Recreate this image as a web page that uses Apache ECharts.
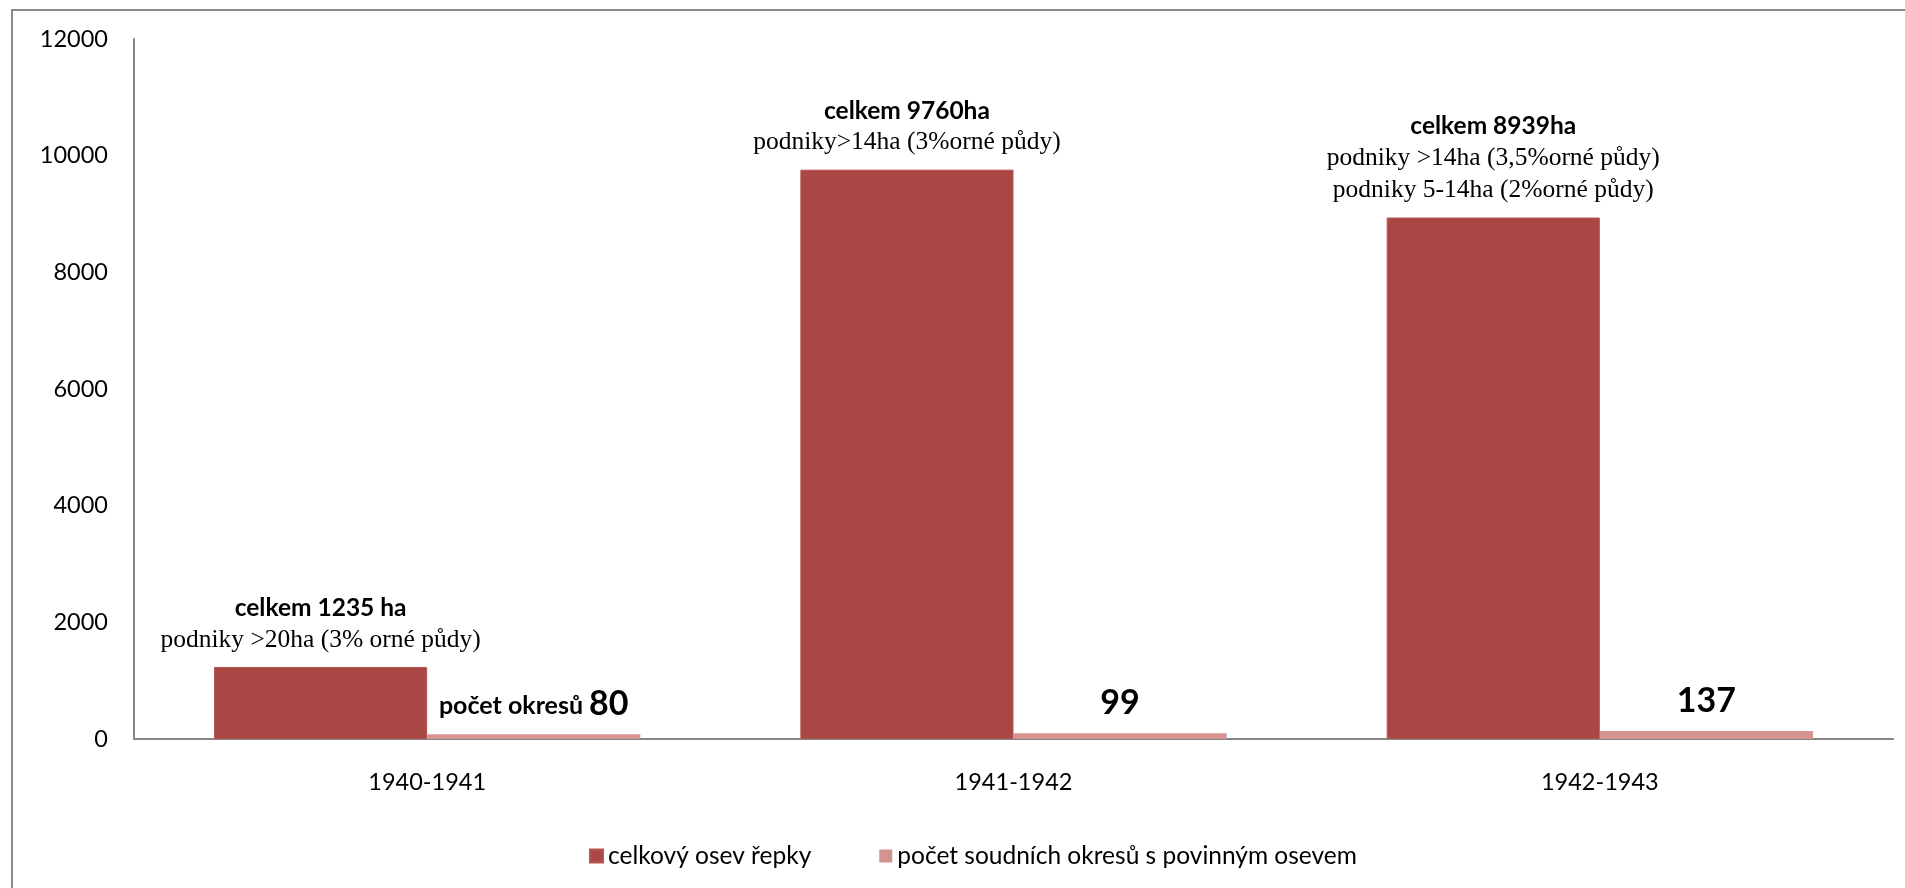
<!DOCTYPE html>
<html>
<head>
<meta charset="utf-8">
<script src="https://cdn.jsdelivr.net/npm/echarts@6/dist/echarts.min.js"></script>
<style>
html,body{margin:0;padding:0;background:#fff;}
#chart{width:1905px;height:888px;}
</style>
</head>
<body>
<div id="chart"></div>
<script>
// ---- data ----
const categories = ['1940-1941', '1941-1942', '1942-1943'];
const seriesNames = ['celkový osev řepky', 'počet soudních okresů s povinným osevem'];
const totalArea = [1235, 9760, 8939];
const districtCount = [80, 99, 137];
const areaTitles = ['celkem 1235 ha', 'celkem 9760ha', 'celkem 8939ha'];
const areaNotes = [
  ['podniky >20ha (3% orné půdy)'],
  ['podniky>14ha (3%orné půdy)'],
  ['podniky >14ha (3,5%orné půdy)', 'podniky 5-14ha (2%orné půdy)']
];
const countPrefixes = ['počet okresů ', '', ''];
const yTicks = { min: 0, max: 12000, interval: 2000 };

const SANS = 'Lato, "Open Sans", sans-serif';
const SERIF = '"Liberation Serif", "DejaVu Serif", serif';

const chart = echarts.init(document.getElementById('chart'));
chart.setOption({
  animation: false,
  backgroundColor: '#ffffff',
  textStyle: { fontFamily: SANS },
  graphic: [{
    type: 'rect',
    shape: { x: 12, y: 10, width: 2000, height: 1000 },
    style: { fill: 'none', stroke: '#8a8a8a', lineWidth: 2 },
    silent: true
  }],
  grid: { left: 134, right: 12, top: 39, bottom: 149, containLabel: false },
  legend: {
    left: 584, top: 838,
    itemWidth: 13, itemHeight: 13, itemGap: 68,
    icon: 'rect',
    textStyle: { fontFamily: SANS, fontSize: 24.5, color: '#000', lineHeight: 26 },
    data: seriesNames
  },
  xAxis: {
    type: 'category',
    data: categories,
    axisLine: { show: true, lineStyle: { color: '#868686', width: 2 } },
    axisTick: { show: false },
    axisLabel: { margin: 31, fontSize: 23.5, color: '#000', fontFamily: SANS }
  },
  yAxis: {
    type: 'value',
    min: yTicks.min, max: yTicks.max, interval: yTicks.interval,
    axisLine: { show: true, lineStyle: { color: '#868686', width: 2 } },
    axisTick: { show: false },
    splitLine: { show: false },
    axisLabel: { margin: 26, fontSize: 23.5, color: '#000', fontFamily: SANS, formatter: v => String(v) }
  },
  series: [
    {
      name: seriesNames[0],
      type: 'bar',
      data: totalArea,
      barGap: '0%',
      barCategoryGap: '27.3%',
      itemStyle: { color: '#AA4644', borderColor: '#b35552', borderWidth: 1 },
      label: {
        show: true,
        position: 'top',
        distance: 11,
        formatter: p => {
          const i = p.dataIndex;
          const lines = ['{b|' + areaTitles[i] + '}'];
          areaNotes[i].forEach(n => lines.push('{s|' + n + '}'));
          return lines.join('\n');
        },
        rich: {
          b: { fontFamily: SANS, fontWeight: 'bold', fontSize: 24.5, lineHeight: 32, color: '#000', align: 'center' },
          s: { fontFamily: SERIF, fontSize: 25.5, lineHeight: 32, color: '#000', align: 'center' }
        }
      }
    },
    {
      name: seriesNames[1],
      type: 'bar',
      data: districtCount,
      itemStyle: { color: '#D59492' },
      label: {
        show: true,
        position: 'top',
        distance: 14,
        formatter: p => {
          const i = p.dataIndex;
          const pre = countPrefixes[i] ? '{p|' + countPrefixes[i] + '}' : '';
          return pre + '{n|' + districtCount[i] + '}';
        },
        rich: {
          p: { fontFamily: SANS, fontWeight: 'bold', fontSize: 25, lineHeight: 32, color: '#000', verticalAlign: 'bottom', padding: [0, 0, 2, 0] },
          n: { fontFamily: SANS, fontWeight: 'bold', fontSize: 34, lineHeight: 32, color: '#000' }
        }
      }
    }
  ]
});
</script>
</body>
</html>
